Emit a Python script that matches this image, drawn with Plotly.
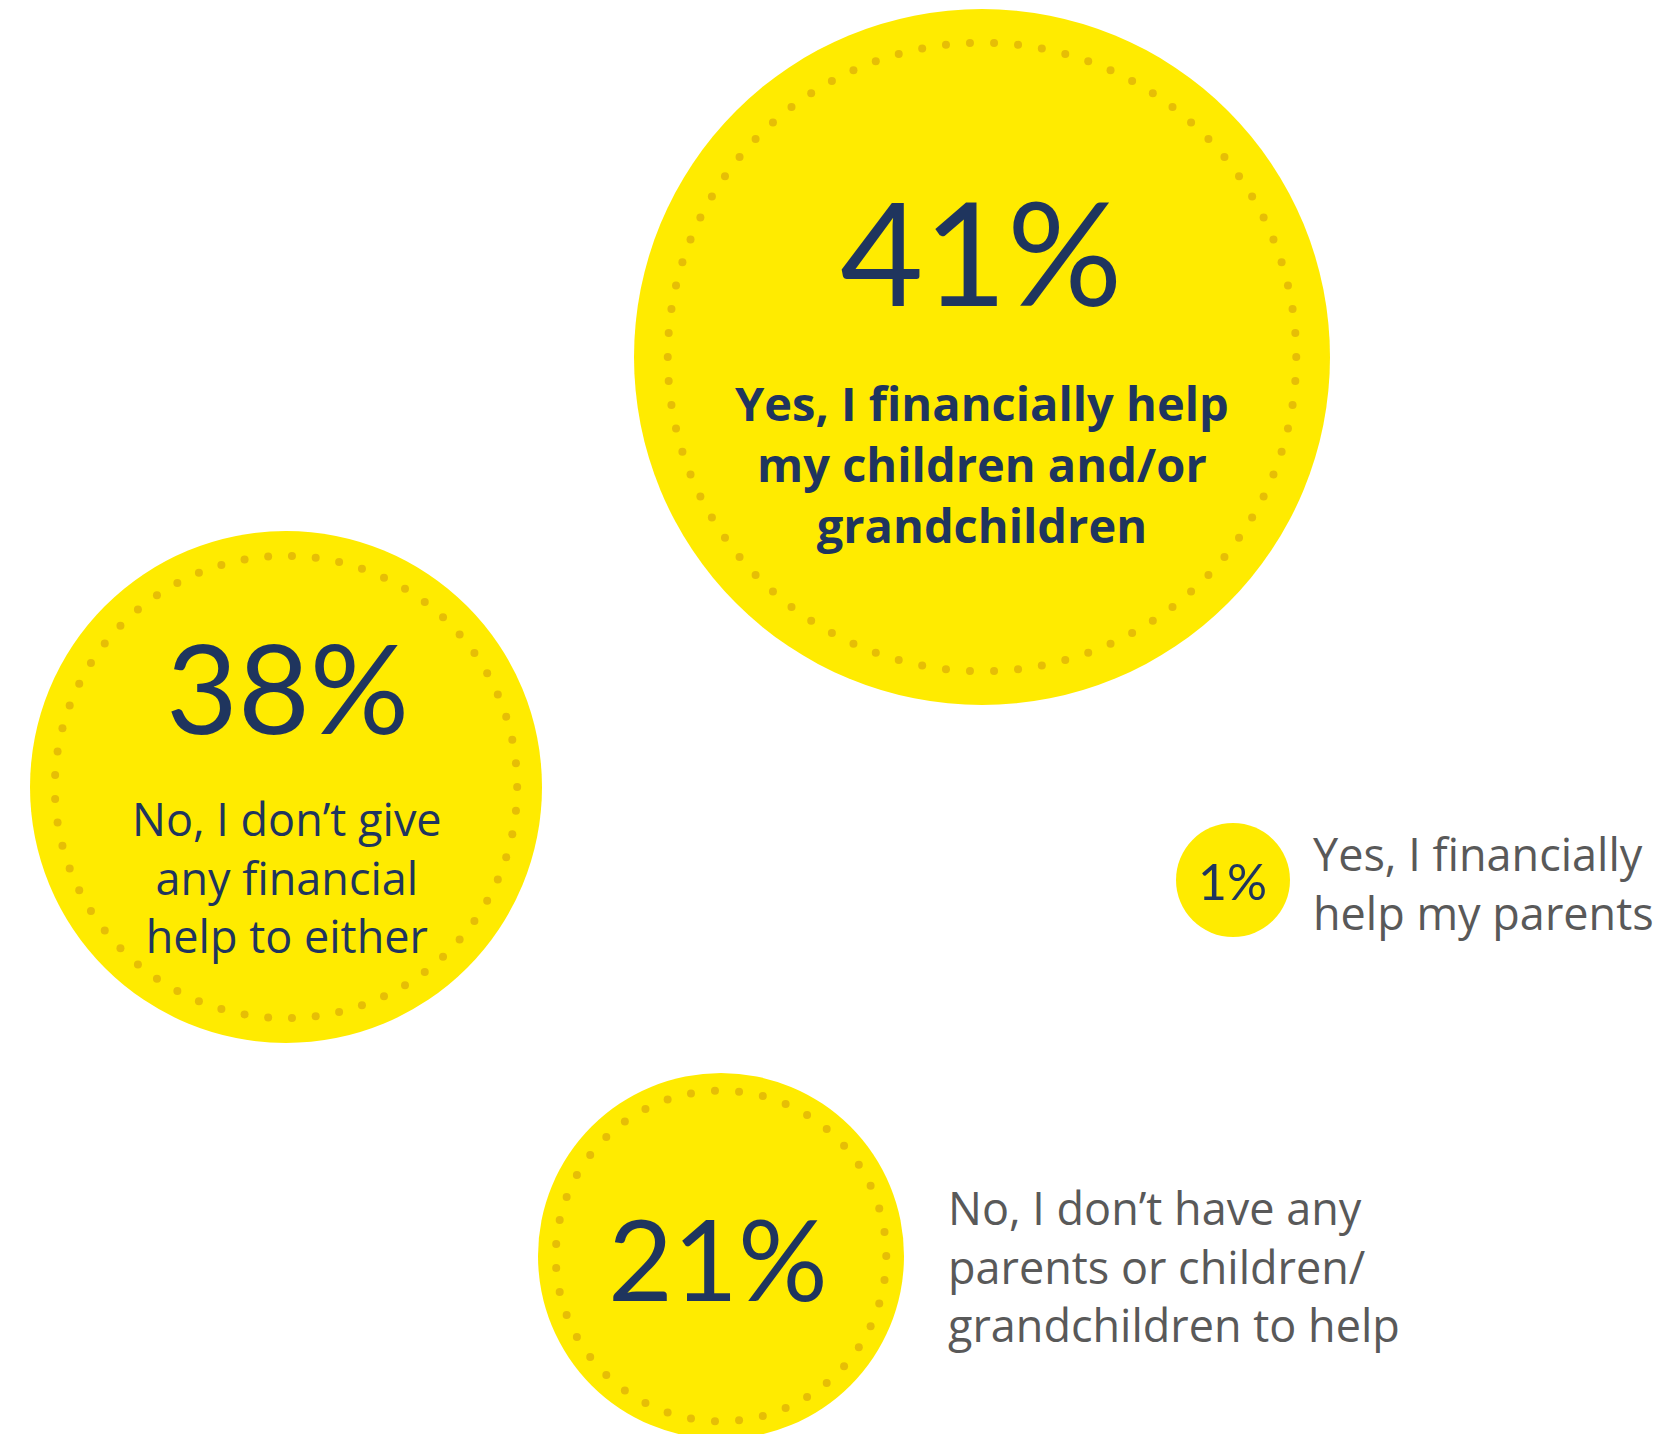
import numpy as np
import plotly.graph_objects as go

# ---- data ----
values = [41, 38, 1, 21]
labels = [
    "Yes, I financially help<br>my children and/or<br>grandchildren",
    "No, I don’t give<br>any financial<br>help to either",
    "Yes, I financially<br>help my parents",
    "No, I don’t have any<br>parents or children/<br>grandchildren to help",
]

# ---- layout / styling (positions in page pixels) ----
W, H = 1665, 1434
centers_x = [982, 286, 1233, 721]
centers_y = [357, 787, 880, 1256]
radii = [348, 256, 57, 183]
has_dots = [True, True, False, True]
num_pos = [(981, 250), (287, 686), (1232, 881), (718, 1257)]
num_size = [144, 124, 50, 112]
lab_pos = [(982, 464), (287, 877), (1311, 883), (946, 1266)]
lab_anchor = ["center", "center", "left", "left"]
lab_size = [47, 45, 45, 45]
lab_color = ["#1F355E", "#1F355E", "#595959", "#595959"]
lab_weight = ["bold", "normal", "normal", "normal"]

YELLOW = "#FFEB00"
DOT = "#E6BE06"
NAVY = "#1F355E"
NUM_FONT = "Lato"
LAB_FONT = "Open Sans"

fig = go.Figure()

for cx, cy, r in zip(centers_x, centers_y, radii):
    fig.add_shape(type="circle", xref="x", yref="y",
                  x0=cx - r, x1=cx + r, y0=cy - r, y1=cy + r,
                  fillcolor=YELLOW, line=dict(width=0), layer="below")

for cx, cy, r, d in zip(centers_x, centers_y, radii, has_dots):
    if not d:
        continue
    rr = r * 0.903
    n = int(round(2 * np.pi * rr / 24))
    t = np.linspace(0, 2 * np.pi, n, endpoint=False)
    fig.add_trace(go.Scatter(x=cx + rr * np.cos(t), y=cy + rr * np.sin(t),
                             mode="markers", hoverinfo="skip",
                             marker=dict(size=8, color=DOT, line=dict(width=0))))

for v, (x, y), s in zip(values, num_pos, num_size):
    fig.add_annotation(x=x, y=y, xref="x", yref="y", text=f"{v}%",
                       showarrow=False, xanchor="center", yanchor="middle",
                       font=dict(family=NUM_FONT, size=s, color=NAVY))

for lab, (x, y), a, s, c, w in zip(labels, lab_pos, lab_anchor, lab_size, lab_color, lab_weight):
    fig.add_annotation(x=x, y=y, xref="x", yref="y", text=lab,
                       showarrow=False, xanchor=a, yanchor="middle", align=a,
                       font=dict(family=LAB_FONT, size=s, color=c, weight=w))

fig.update_layout(
    width=W, height=H, margin=dict(l=0, r=0, t=0, b=0),
    paper_bgcolor="white", plot_bgcolor="white", showlegend=False,
    xaxis=dict(range=[0, W], visible=False, fixedrange=True),
    yaxis=dict(range=[H, 0], visible=False, fixedrange=True),
)

fig.write_html("out.html", config={"displayModeBar": False},
               post_script="document.body.style.margin='0';document.body.style.overflow='hidden';")
